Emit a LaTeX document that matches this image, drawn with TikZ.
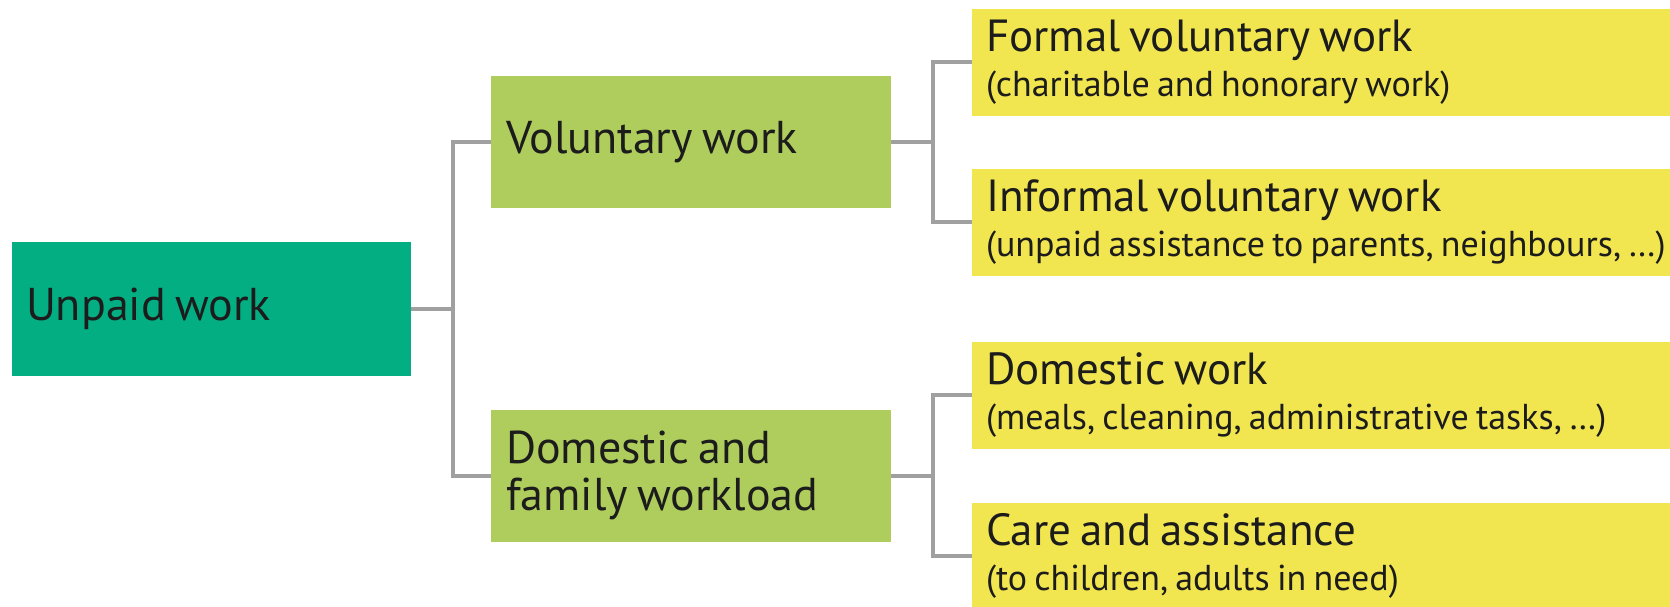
\documentclass[tikz,border=0pt]{standalone}
\usepackage{fontspec}
\setmainfont{PT Sans}
\usepackage{tikz}
\definecolor{rootgreen}{RGB}{3,174,130}
\definecolor{midgreen}{RGB}{174,205,92}
\definecolor{leafyellow}{RGB}{242,230,80}
\definecolor{linkgrey}{RGB}{160,160,160}
\definecolor{inkblack}{RGB}{28,28,28}
\newcommand{\tightspace}{\spaceskip=0.2em\relax}
\newcommand{\mainfont}{\fontsize{46}{47}\selectfont}
\newcommand{\leaffont}{\fontsize{45}{45}\selectfont}
\newcommand{\boxnote}[1]{\mbox{\fontsize{36}{44}\selectfont\tightspace #1}}
\tikzstyle{fork} = [coordinate]
\tikzstyle{rootbox} = [rectangle, fill=rootgreen, text=inkblack, text width=371pt, inner xsep=14pt, minimum height=134pt, align=left]
\tikzstyle{midbox} = [rectangle, fill=midgreen, text=inkblack, text width=370pt, inner xsep=15pt, minimum height=132pt, align=left]
\tikzstyle{leafbox} = [rectangle, fill=leafyellow, text=inkblack, text width=690pt, inner xsep=14pt, minimum height=107pt, align=left, font=\leaffont]
\tikzstyle{link} = [draw=linkgrey, line width=4pt]

\begin{document}
\begin{tikzpicture}[font=\mainfont, execute at begin node=\tightspace]
    \useasboundingbox (0,0) rectangle (1670pt,-606pt);
    \node [rootbox] (unpaid) at (211.5pt,-309pt) {Unpaid work};
    \node [midbox, right of=unpaid, node distance=479.5pt, yshift=167pt] (voluntary) {Voluntary work};
    \node [midbox, right of=unpaid, node distance=479.5pt, yshift=-166.5pt] (family) {Domestic and\\family workload};
    \node [fork, right of=unpaid, node distance=241.5pt] (fork1) {};

    \node [leafbox, right of=voluntary, node distance=640pt, yshift=80pt] (formal) {Formal voluntary work\\\boxnote{(charitable and honorary work)}};
    \node [leafbox, right of=voluntary, node distance=640pt, yshift=-80pt] (informal) {Informal voluntary work\\\boxnote{(unpaid assistance to parents, neighbours, \dots)}};
    \node [leafbox, right of=family, node distance=640pt, yshift=80.5pt] (domestic) {Domestic work\\\boxnote{(meals, cleaning, administrative tasks, \dots)}};
    \node [leafbox, right of=family, node distance=640pt, yshift=-80.5pt] (care) {Care and assistance\\\boxnote{(to children, adults in need)}};
    \node [fork, right of=voluntary, node distance=242pt] (fork2) {};
    \node [fork, right of=family, node distance=242pt] (fork3) {};

    \draw [link] (unpaid) -- (fork1) |- (voluntary);
    \draw [link] (fork1) |- (family);
    \draw [link] (voluntary) -- (fork2) |- (formal);
    \draw [link] (fork2) |- (informal);
    \draw [link] (family) -- (fork3) |- (domestic);
    \draw [link] (fork3) |- (care);
\end{tikzpicture}
\end{document}
